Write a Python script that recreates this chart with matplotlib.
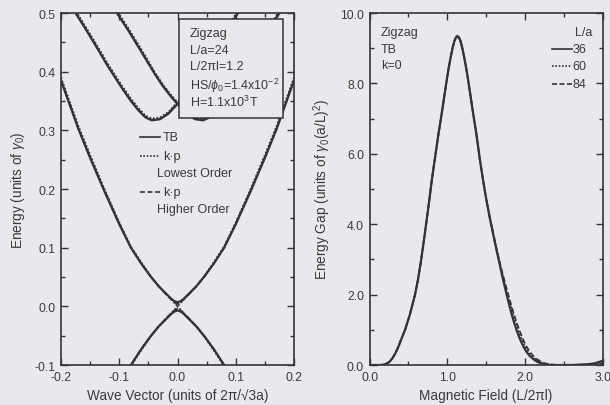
import numpy as np
import matplotlib
matplotlib.use("Agg")
import matplotlib.pyplot as plt
from matplotlib.patches import Rectangle
from matplotlib.ticker import MultipleLocator, FormatStrFormatter

plt.rcParams['font.family'] = ['Liberation Sans', 'DejaVu Sans']
plt.rcParams['mathtext.fontset'] = 'custom'
plt.rcParams['mathtext.rm'] = 'Liberation Sans'
plt.rcParams['mathtext.it'] = 'Liberation Sans:italic'

BG = '#e9e8ee'
INK = '#333338'
TXT = '#3a3a3a'

# ---- left panel: band structure, zigzag ribbon L/a=24 ----
# lowest conduction band (k >= 0, symmetric in k; valence band is its negative)
k_cond = np.array([0.0, 0.005, 0.01, 0.021, 0.033, 0.047, 0.063, 0.08, 0.1, 0.125, 0.15, 0.17, 0.2])
E_cond_tb = np.array([0.007, 0.0087, 0.0122, 0.023, 0.035, 0.052, 0.074, 0.1, 0.14, 0.195, 0.253, 0.302, 0.385])
E_cond_kp0 = np.array([0.0, 0.0055, 0.011, 0.022, 0.035, 0.053, 0.076, 0.102, 0.143, 0.199, 0.258, 0.307, 0.39])
E_cond_kp1 = np.array([0.004, 0.0065, 0.011, 0.022, 0.035, 0.052, 0.074, 0.1, 0.141, 0.196, 0.254, 0.303, 0.386])

# second band (one of a mirror pair, the other is E(-k))
k_up = np.array([-0.19, -0.175, -0.158, -0.142, -0.12, -0.096, -0.08, -0.067, -0.055, -0.044,
                 -0.03, -0.016, 0.0, 0.01, 0.025, 0.039, 0.053, 0.067, 0.085, 0.104, 0.12])
E_up_tb = np.array([0.524, 0.5, 0.473, 0.447, 0.41, 0.373, 0.350, 0.334, 0.322, 0.317,
                    0.319, 0.328, 0.345, 0.356, 0.375, 0.396, 0.419, 0.442, 0.471, 0.5, 0.526])
E_up_kp0 = np.array([0.528, 0.504, 0.477, 0.451, 0.414, 0.377, 0.354, 0.338, 0.325, 0.320,
                     0.322, 0.331, 0.348, 0.359, 0.378, 0.399, 0.423, 0.446, 0.475, 0.504, 0.530])
E_up_kp1 = np.array([0.525, 0.501, 0.474, 0.448, 0.411, 0.374, 0.351, 0.335, 0.323, 0.318,
                     0.320, 0.329, 0.346, 0.357, 0.376, 0.397, 0.420, 0.443, 0.472, 0.501, 0.527])

# ---- right panel: gap at k=0 vs magnetic field ----
B_field = np.array([0.0, 0.15, 0.2, 0.25, 0.29, 0.33, 0.37, 0.41, 0.456, 0.52, 0.584, 0.62,
                    0.657, 0.685, 0.713, 0.74, 0.764, 0.80, 0.842, 0.885, 0.928, 0.955, 0.979,
                    1.0, 1.02, 1.048, 1.07, 1.09, 1.11, 1.13, 1.15, 1.17, 1.19, 1.212, 1.24,
                    1.26, 1.281, 1.305, 1.332, 1.375, 1.418, 1.46, 1.498, 1.545, 1.59, 1.635,
                    1.678, 1.72, 1.764, 1.80, 1.83, 1.86, 1.893, 1.93, 1.98, 2.02, 2.06, 2.1,
                    2.15, 2.2, 2.25, 2.32, 2.4, 2.6, 2.8, 2.9, 3.0])
gap_36 = np.array([0.0, 0.0, 0.02, 0.08, 0.18, 0.33, 0.52, 0.75, 1.0, 1.45, 2.0, 2.4,
                   2.9, 3.33, 3.78, 4.22, 4.62, 5.25, 5.9, 6.55, 7.15, 7.55, 7.9,
                   8.2, 8.47, 8.8, 9.03, 9.2, 9.3, 9.35, 9.3, 9.2, 9.03, 8.8, 8.47,
                   8.2, 7.9, 7.55, 7.15, 6.55, 5.85, 5.25, 4.75, 4.2, 3.72, 3.25,
                   2.82, 2.4, 2.0, 1.68, 1.43, 1.2, 0.98, 0.76, 0.52, 0.37, 0.26, 0.18,
                   0.1, 0.05, 0.02, 0.0, 0.0, 0.0, 0.02, 0.05, 0.12])
gap_60 = np.array([0.0, 0.0, 0.02, 0.08, 0.18, 0.33, 0.52, 0.75, 1.0, 1.45, 2.0, 2.4,
                   2.9, 3.33, 3.78, 4.22, 4.62, 5.25, 5.9, 6.55, 7.15, 7.55, 7.9,
                   8.2, 8.47, 8.8, 9.03, 9.2, 9.3, 9.35, 9.3, 9.2, 9.03, 8.8, 8.47,
                   8.2, 7.9, 7.55, 7.15, 6.55, 5.85, 5.25, 4.75, 4.2, 3.73, 3.27,
                   2.86, 2.47, 2.1, 1.8, 1.56, 1.33, 1.11, 0.88, 0.62, 0.46, 0.33, 0.23,
                   0.14, 0.08, 0.04, 0.015, 0.0, 0.0, 0.01, 0.03, 0.08])
gap_84 = np.array([0.0, 0.0, 0.02, 0.08, 0.18, 0.33, 0.52, 0.75, 1.0, 1.45, 2.0, 2.4,
                   2.9, 3.33, 3.78, 4.22, 4.62, 5.25, 5.9, 6.55, 7.15, 7.55, 7.9,
                   8.2, 8.47, 8.8, 9.03, 9.2, 9.3, 9.35, 9.3, 9.2, 9.03, 8.8, 8.47,
                   8.2, 7.9, 7.55, 7.15, 6.55, 5.85, 5.25, 4.75, 4.2, 3.74, 3.29,
                   2.89, 2.52, 2.16, 1.87, 1.64, 1.42, 1.2, 0.97, 0.7, 0.52, 0.38, 0.27,
                   0.17, 0.1, 0.05, 0.02, 0.0, 0.0, 0.01, 0.02, 0.05])
sizes = ['36', '60', '84']

fig = plt.figure(figsize=(6.10, 4.06), dpi=100, facecolor=BG)
axL = fig.add_axes([0.100, 0.0985, 0.382, 0.867])
axR = fig.add_axes([0.606, 0.0985, 0.382, 0.867])

styles = [dict(ls='-', lw=1.6), dict(ls=(0, (1, 1)), lw=1.3), dict(ls=(0, (3, 1.5)), lw=1.3)]

for ax in (axL, axR):
    ax.set_facecolor(BG)
    for s in ax.spines.values():
        s.set_color(INK)
        s.set_linewidth(1.2)
    ax.tick_params(which='both', direction='in', top=True, right=True, colors=INK,
                   labelcolor=TXT, labelsize=8.8, width=1.0, pad=4)
    ax.tick_params(which='major', length=5)
    ax.tick_params(which='minor', length=3)

# left panel curves
for sty, Ec, Eu in zip(styles, [E_cond_tb, E_cond_kp0, E_cond_kp1], [E_up_tb, E_up_kp0, E_up_kp1]):
    kk = np.concatenate([-k_cond[::-1], k_cond[1:]])
    ee = np.concatenate([Ec[::-1], Ec[1:]])
    axL.plot(kk, ee, color=INK, **sty)
    axL.plot(kk, -ee, color=INK, **sty)
    axL.plot(k_up, Eu, color=INK, **sty)
    axL.plot(-k_up, Eu, color=INK, **sty)

axL.set_xlim(-0.2, 0.2)
axL.set_ylim(-0.1, 0.5)
axL.xaxis.set_major_locator(MultipleLocator(0.1))
axL.xaxis.set_minor_locator(MultipleLocator(0.05))
axL.yaxis.set_major_locator(MultipleLocator(0.1))
axL.yaxis.set_minor_locator(MultipleLocator(0.05))
axL.xaxis.set_major_formatter(FormatStrFormatter('%.1f'))
axL.yaxis.set_major_formatter(FormatStrFormatter('%.1f'))
axL.set_xlabel('Wave Vector (units of 2\u03c0/\u221a3a)', fontsize=9.8, color=TXT, labelpad=4)
axL.set_ylabel(r'Energy (units of $\gamma_0$)', fontsize=9.8, color=TXT, labelpad=5)

# parameter box
axL.add_patch(Rectangle((0.506, 0.702), 0.447, 0.281, transform=axL.transAxes,
                        facecolor=BG, edgecolor=INK, lw=1.1, zorder=5))
box_lines = ['Zigzag', 'L/a=24', 'L/2\u03c0l=1.2', r'HS/$\phi_0$=1.4x10$^{-2}$', r'H=1.1x10$^{3}$T']
box_y = [0.943, 0.896, 0.849, 0.797, 0.748]
for t, y in zip(box_lines, box_y):
    axL.text(0.552, y, t, transform=axL.transAxes, fontsize=9, color=TXT,
             va='center', ha='left', zorder=6)

# series key
key_rows = [(0.648, 'TB', 0), (0.594, 'k\u00b7p', 1), (0.491, 'k\u00b7p', 2)]
for y, lab, i in key_rows:
    axL.plot([0.339, 0.425], [y, y], transform=axL.transAxes, color=INK,
             **{**styles[i], 'lw': 1.2})
    axL.text(0.437, y, lab, transform=axL.transAxes, fontsize=9, color=TXT, va='center')
axL.text(0.412, 0.545, 'Lowest Order', transform=axL.transAxes, fontsize=9, color=TXT, va='center')
axL.text(0.412, 0.443, 'Higher Order', transform=axL.transAxes, fontsize=9, color=TXT, va='center')

# right panel curves
for sty, g in zip(styles, [gap_36, gap_60, gap_84]):
    axR.plot(B_field, g, color=INK, **sty)

axR.set_xlim(0, 3.0)
axR.set_ylim(0, 10.0)
axR.xaxis.set_major_locator(MultipleLocator(1.0))
axR.xaxis.set_minor_locator(MultipleLocator(0.5))
axR.yaxis.set_major_locator(MultipleLocator(2.0))
axR.yaxis.set_minor_locator(MultipleLocator(1.0))
axR.xaxis.set_major_formatter(FormatStrFormatter('%.1f'))
axR.yaxis.set_major_formatter(FormatStrFormatter('%.1f'))
axR.set_xlabel('Magnetic Field (L/2\u03c0l)', fontsize=9.8, color=TXT, labelpad=4)
axR.set_ylabel(r'Energy Gap (units of $\gamma_0$(a/L)$^2$)', fontsize=9.8, color=TXT, labelpad=5)

for t, y in zip(['Zigzag', 'TB', 'k=0'], [0.946, 0.898, 0.851]):
    axR.text(0.049, y, t, transform=axR.transAxes, fontsize=9, color=TXT, va='center')
axR.text(0.954, 0.946, 'L/a', transform=axR.transAxes, fontsize=9, color=TXT,
         va='center', ha='right')
for i, (lab, y) in enumerate(zip(sizes, [0.898, 0.849, 0.798])):
    axR.plot([0.782, 0.868], [y, y], transform=axR.transAxes, color=INK,
             **{**styles[i], 'lw': 1.2})
    axR.text(0.870, y, lab, transform=axR.transAxes, fontsize=9, color=TXT, va='center')

fig.savefig('out.png', dpi=100, facecolor=BG)
